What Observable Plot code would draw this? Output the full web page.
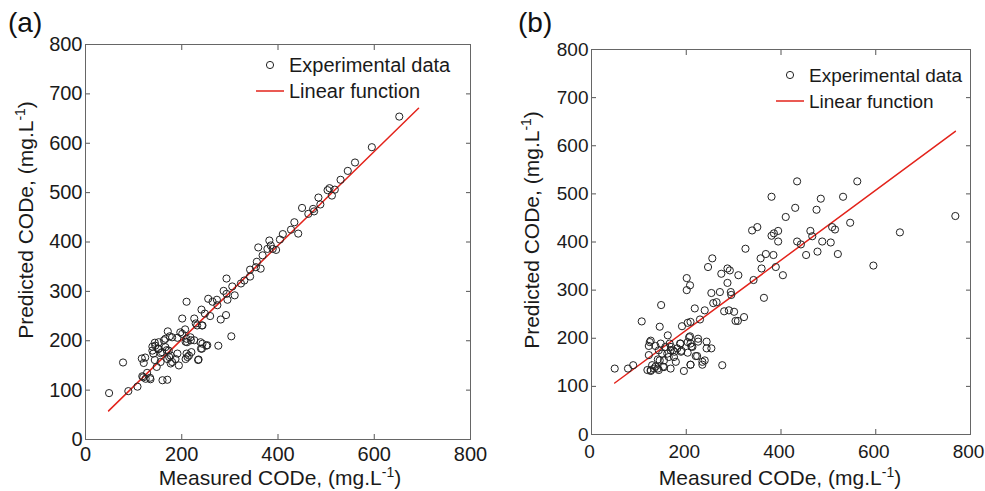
<!DOCTYPE html>
<html><head><meta charset="utf-8">
<script src="https://cdn.jsdelivr.net/npm/d3@7"></script>
<script src="https://cdn.jsdelivr.net/npm/@observablehq/plot@0.6"></script>
<style>
body{margin:0;background:#fff;}
#wrap{position:relative;width:985px;height:491px;font-family:"Liberation Sans",Arial,sans-serif;}
.panel{position:absolute;top:0;}
</style></head><body><div id="wrap"></div>
<script>
const xTicks = [0, 200, 400, 600, 800];
const yTicks = [0, 100, 200, 300, 400, 500, 600, 700, 800];
const panelLabels = ["(a)", "(b)"];
const legendLabels = ["Experimental data", "Linear function"];
const xTitle = "Measured CODe, (mg.L";
const yTitle = "Predicted CODe, (mg.L";
const supText = "-1";

const aMeasured = [49,78,89,108,117,124,121,118,125,134,128,139,144,141,144,148,151,156,160,170,171,163,169,175,174,177,191,194,191,201,210,207,201,208,212,210,219,226,220,226,229,235,240,243,243,241,248,253,259,255,264,273,274,276,281,287,292,293,295,293,303,305,310,323,330,342,342,354,356,364,359,368,378,382,385,389,396,404,410,427,434,442,450,463,473,475,484,488,503,507,512,518,530,545,560,595,652,
  120,135,145,139,152,156,166,173,177,180,170,159,152,166,180,197,210,211,215,208,187,218,232,242,239,242,251,234];
const aPredicted = [94,156,98,107,164,166,155,128,123,125,135,188,196,174,161,147,183,175,120,121,219,201,181,209,167,154,206,150,174,245,279,223,214,198,167,174,201,201,177,245,235,162,184,194,231,263,255,191,250,285,279,283,272,190,243,301,252,326,283,295,209,310,292,316,322,330,344,349,360,346,389,373,386,403,393,386,384,405,416,425,440,417,469,457,467,462,490,476,505,509,494,506,526,544,561,592,654,
  126,122,190,180,184,157,187,180,170,157,163,177,197,204,207,217,204,197,170,163,163,207,231,231,197,184,190,161];
const aLineX = [48, 692];
const aLineY = [58, 671];

const bMeasured = [49,77,88,106,121,121,125,118,125,128,135,140,142,144,147,146,149,151,156,161,163,167,168,172,174,178,181,187,189,191,195,201,201,208,203,209,206,209,213,209,218,220,225,229,234,239,243,243,246,253,255,253,257,264,271,274,276,280,287,287,292,290,294,295,301,304,309,310,322,325,339,342,350,357,359,364,368,380,380,385,384,389,394,394,404,410,430,434,434,442,453,462,466,475,477,484,487,505,508,514,520,531,546,561,595,651,768,
  123,125,132,135,142,144,140,153,153,165,160,167,175,188,190,203,208,203,211,223,225,239,234,209];
const bPredicted = [137,137,144,235,165,184,195,134,134,144,141,156,134,224,269,189,168,141,182,206,161,137,182,175,161,151,179,189,172,225,132,325,300,310,232,234,202,189,182,145,262,163,193,239,151,258,193,179,348,179,366,294,273,275,296,334,144,256,315,345,341,258,296,290,255,236,236,331,244,386,424,321,431,366,345,284,375,494,413,418,373,348,423,401,331,452,471,526,401,395,373,423,412,467,380,490,401,399,431,426,375,494,440,526,351,420,454,
  192,132,137,184,175,154,137,140,154,189,168,175,172,189,174,192,204,170,183,163,199,154,145,145];
const bLineX = [49, 768];
const bLineY = [107, 630];

function makePanel(cfg) {
  const pts = cfg.measured.map((m, i) => ({m, p: cfg.predicted[i]}));
  const line = cfg.lineX.map((x, i) => ({x, y: cfg.lineY[i]}));
  const plot = Plot.plot({
    width: cfg.width, height: 491,
    marginLeft: cfg.ml, marginRight: cfg.mr, marginTop: cfg.mt, marginBottom: cfg.mb,
    style: {fontFamily: "'Liberation Sans', Arial, sans-serif", fontSize: cfg.tickFont + "px", color: "#1a1a1a", background: "#fff", overflow: "visible"},
    x: {domain: [0, 800]},
    y: {domain: [0, 800]},
    marks: [
      Plot.axisX({ticks: xTicks, tickSize: 0, tickPadding: cfg.xpad, label: null, dx: cfg.xdx}),
      Plot.axisY({ticks: yTicks, tickSize: 0, tickPadding: 3, label: null}),
      Plot.axisX({ticks: xTicks, tickSize: -5, tickFormat: () => "", label: null, stroke: "#555"}),
      Plot.axisX({ticks: xTicks, anchor: "top", tickSize: -5, tickFormat: () => "", label: null, stroke: "#555"}),
      Plot.axisY({ticks: yTicks, tickSize: -5, tickFormat: () => "", label: null, stroke: "#555"}),
      Plot.axisY({ticks: yTicks, anchor: "right", tickSize: -5, tickFormat: () => "", label: null, stroke: "#555"}),
      Plot.line(line, {x: "x", y: "y", stroke: "#e3231b", strokeWidth: 1.5}),
      Plot.dot(pts, {x: "m", y: "p", r: 3.6, stroke: "#222", strokeWidth: 1, fill: "none"}),
      Plot.frame({stroke: "#666", strokeWidth: 1})
    ]
  });
  const svg = d3.select(plot);
  // panel label
  svg.append("text").attr("x", cfg.labX).attr("y", 32).attr("text-anchor", "start").attr("font-size", 28).attr("fill", "#111").text(cfg.label);
  // x title
  const xt = svg.append("text").attr("x", cfg.xtX).attr("y", 485).attr("text-anchor", "middle").attr("font-size", 21).attr("fill", "#1a1a1a");
  xt.append("tspan").text(xTitle);
  xt.append("tspan").attr("dy", -8).attr("font-size", 14).text(supText);
  xt.append("tspan").attr("dy", 8).text(")");
  // y title
  const yt = svg.append("text").attr("transform", `translate(${cfg.ytX},${cfg.ytY}) rotate(-90)`).attr("text-anchor", "middle").attr("font-size", 21).attr("fill", "#1a1a1a");
  yt.append("tspan").text(yTitle);
  yt.append("tspan").attr("dy", -8).attr("font-size", 14).text(supText);
  yt.append("tspan").attr("dy", 8).text(")");
  // legend
  const g = svg.append("g").attr("font-size", cfg.legFont).attr("fill", "#1a1a1a").attr("text-anchor", "start");
  g.append("circle").attr("cx", cfg.legX + 14).attr("cy", cfg.legY).attr("r", 3.6).attr("fill", "none").attr("stroke", "#222");
  g.append("text").attr("x", cfg.legX + 33).attr("y", cfg.legY + 7).text(legendLabels[0]);
  g.append("line").attr("x1", cfg.legX).attr("x2", cfg.legX + 28).attr("y1", cfg.legY + 26).attr("y2", cfg.legY + 26).attr("stroke", "#e3231b").attr("stroke-width", 1.5);
  g.append("text").attr("x", cfg.legX + 33).attr("y", cfg.legY + 33).text(legendLabels[1]);
  const div = document.createElement("div");
  div.className = "panel";
  div.style.left = cfg.left + "px";
  div.appendChild(plot);
  document.getElementById("wrap").appendChild(div);
}

makePanel({measured: aMeasured, predicted: aPredicted, lineX: aLineX, lineY: aLineY,
  left: 0, width: 490, ml: 85, mr: 20, mt: 44, mb: 52, tickFont: 20, xdx: 0, xpad: 7,
  label: panelLabels[0], labX: 8, xtX: 280, ytX: 33, ytY: 220, legX: 256, legY: 65, legFont: 20});
makePanel({measured: bMeasured, predicted: bPredicted, lineX: bLineX, lineY: bLineY,
  left: 490, width: 495, ml: 101, mr: 15, mt: 49, mb: 57, tickFont: 19, xdx: -2, xpad: 10,
  label: panelLabels[1], labX: 28, xtX: 290, ytX: 49, ytY: 230, legX: 286, legY: 75, legFont: 19});
</script></body></html>
